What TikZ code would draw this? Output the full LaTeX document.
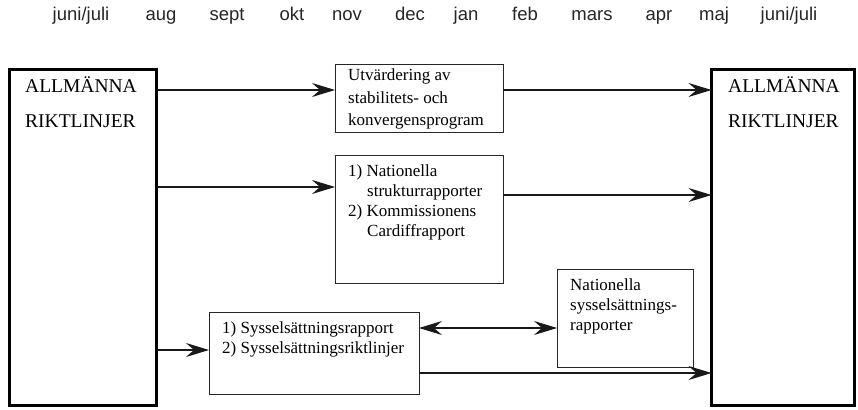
\documentclass[tikz,border=0pt]{standalone}
\usepackage{fontspec}
\setmainfont{Liberation Serif}
\newfontfamily\monthfont{Liberation Sans}
\usetikzlibrary{arrows.meta}
\begin{document}
\begin{tikzpicture}[x=1pt,y=-1pt,
  bigbox/.style={draw=black, line width=3pt, inner sep=0pt, outer sep=0pt, anchor=north west},
  smallbox/.style={draw=black!85, line width=1pt, inner sep=0pt, outer sep=0pt, anchor=north west},
  month/.style={font=\monthfont\fontsize{18.5}{21}\selectfont, text=black!85, anchor=base, inner sep=0pt},
  bigtxt/.style={font=\fontsize{19.5}{23}\selectfont, anchor=base west, inner sep=0pt},
  txt/.style={font=\fontsize{17}{20}\selectfont, anchor=base west, inner sep=0pt},
  arr/.style={line width=1.1pt, draw=black!90, -{Stealth[length=23pt, width=14pt, inset=8pt]}},
  darr/.style={line width=1.1pt, draw=black!90, {Stealth[length=23pt, width=14pt, inset=8pt]}-{Stealth[length=23pt, width=14pt, inset=8pt]}}
]
\useasboundingbox (0,0) rectangle (858,409);

% months
\node[month] (m1) at (81,21) {juni/juli};
\node[month] (m2) at (161,21) {aug};
\node[month] (m3) at (227,21) {sept};
\node[month] (m4) at (292,21) {okt};
\node[month] (m5) at (347,21) {nov};
\node[month] (m6) at (410,21) {dec};
\node[month] (m7) at (466,21) {jan};
\node[month] (m8) at (525,21) {feb};
\node[month] (m9) at (592,21) {mars};
\node[month] (m10) at (659,21) {apr};
\node[month] (m11) at (714,21) {maj};
\node[month] (m12) at (789,21) {juni/juli};

% big boxes
\node[bigbox, minimum width=147pt, minimum height=336pt] (L) at (9.5,69.5) {};
\node[bigbox, minimum width=143pt, minimum height=336pt] (R) at (711.5,69.5) {};
\node[bigtxt] (L1) at (25,93) {ALLMÄNNA};
\node[bigtxt] (L2) at (25,128) {RIKTLINJER};
\node[bigtxt] (R1) at (728,93) {ALLMÄNNA};
\node[bigtxt] (R2) at (728,128) {RIKTLINJER};

% small boxes
\node[smallbox, minimum width=168pt, minimum height=67pt] (U) at (335,65) {};
\node[smallbox, minimum width=168pt, minimum height=128pt] (N) at (335,155) {};
\node[smallbox, minimum width=210pt, minimum height=82pt] (S) at (209,312) {};
\node[smallbox, minimum width=136pt, minimum height=98pt] (NS) at (557,269) {};

\node[txt] (U1) at (348,81) {Utvärdering av};
\node[txt] (U2) at (348,103) {stabilitets- och};
\node[txt] (U3) at (348,125) {konvergensprogram};

\node[txt] (N1) at (348,176) {1) Nationella};
\node[txt] (N2) at (367,196) {strukturrapporter};
\node[txt] (N3) at (348,216) {2) Kommissionens};
\node[txt] (N4) at (367,236) {Cardiffrapport};

\node[txt] (S1) at (222,333) {1) Sysselsättningsrapport};
\node[txt] (S2) at (222,353) {2) Sysselsättningsriktlinjer};

\node[txt] (NS1) at (570,290) {Nationella};
\node[txt] (NS2) at (570,310) {sysselsättnings-};
\node[txt] (NS3) at (570,330) {rapporter};

% connectors
\draw[arr] (L.east |- 0,90) -- (U.west |- 0,90);
\draw[arr] (U.east |- 0,90) -- (R.west |- 0,90);
\draw[arr] (L.east |- 0,187) -- (N.west |- 0,187);
\draw[arr] (N.east |- 0,195) -- (R.west |- 0,195);
\draw[arr] (L.east |- 0,350) -- (S.west |- 0,350);
\draw[darr] (S.east |- 0,328) -- (NS.west |- 0,328);
\draw[arr] (S.east |- 0,373) -- (R.west |- 0,373);
\end{tikzpicture}
\end{document}
